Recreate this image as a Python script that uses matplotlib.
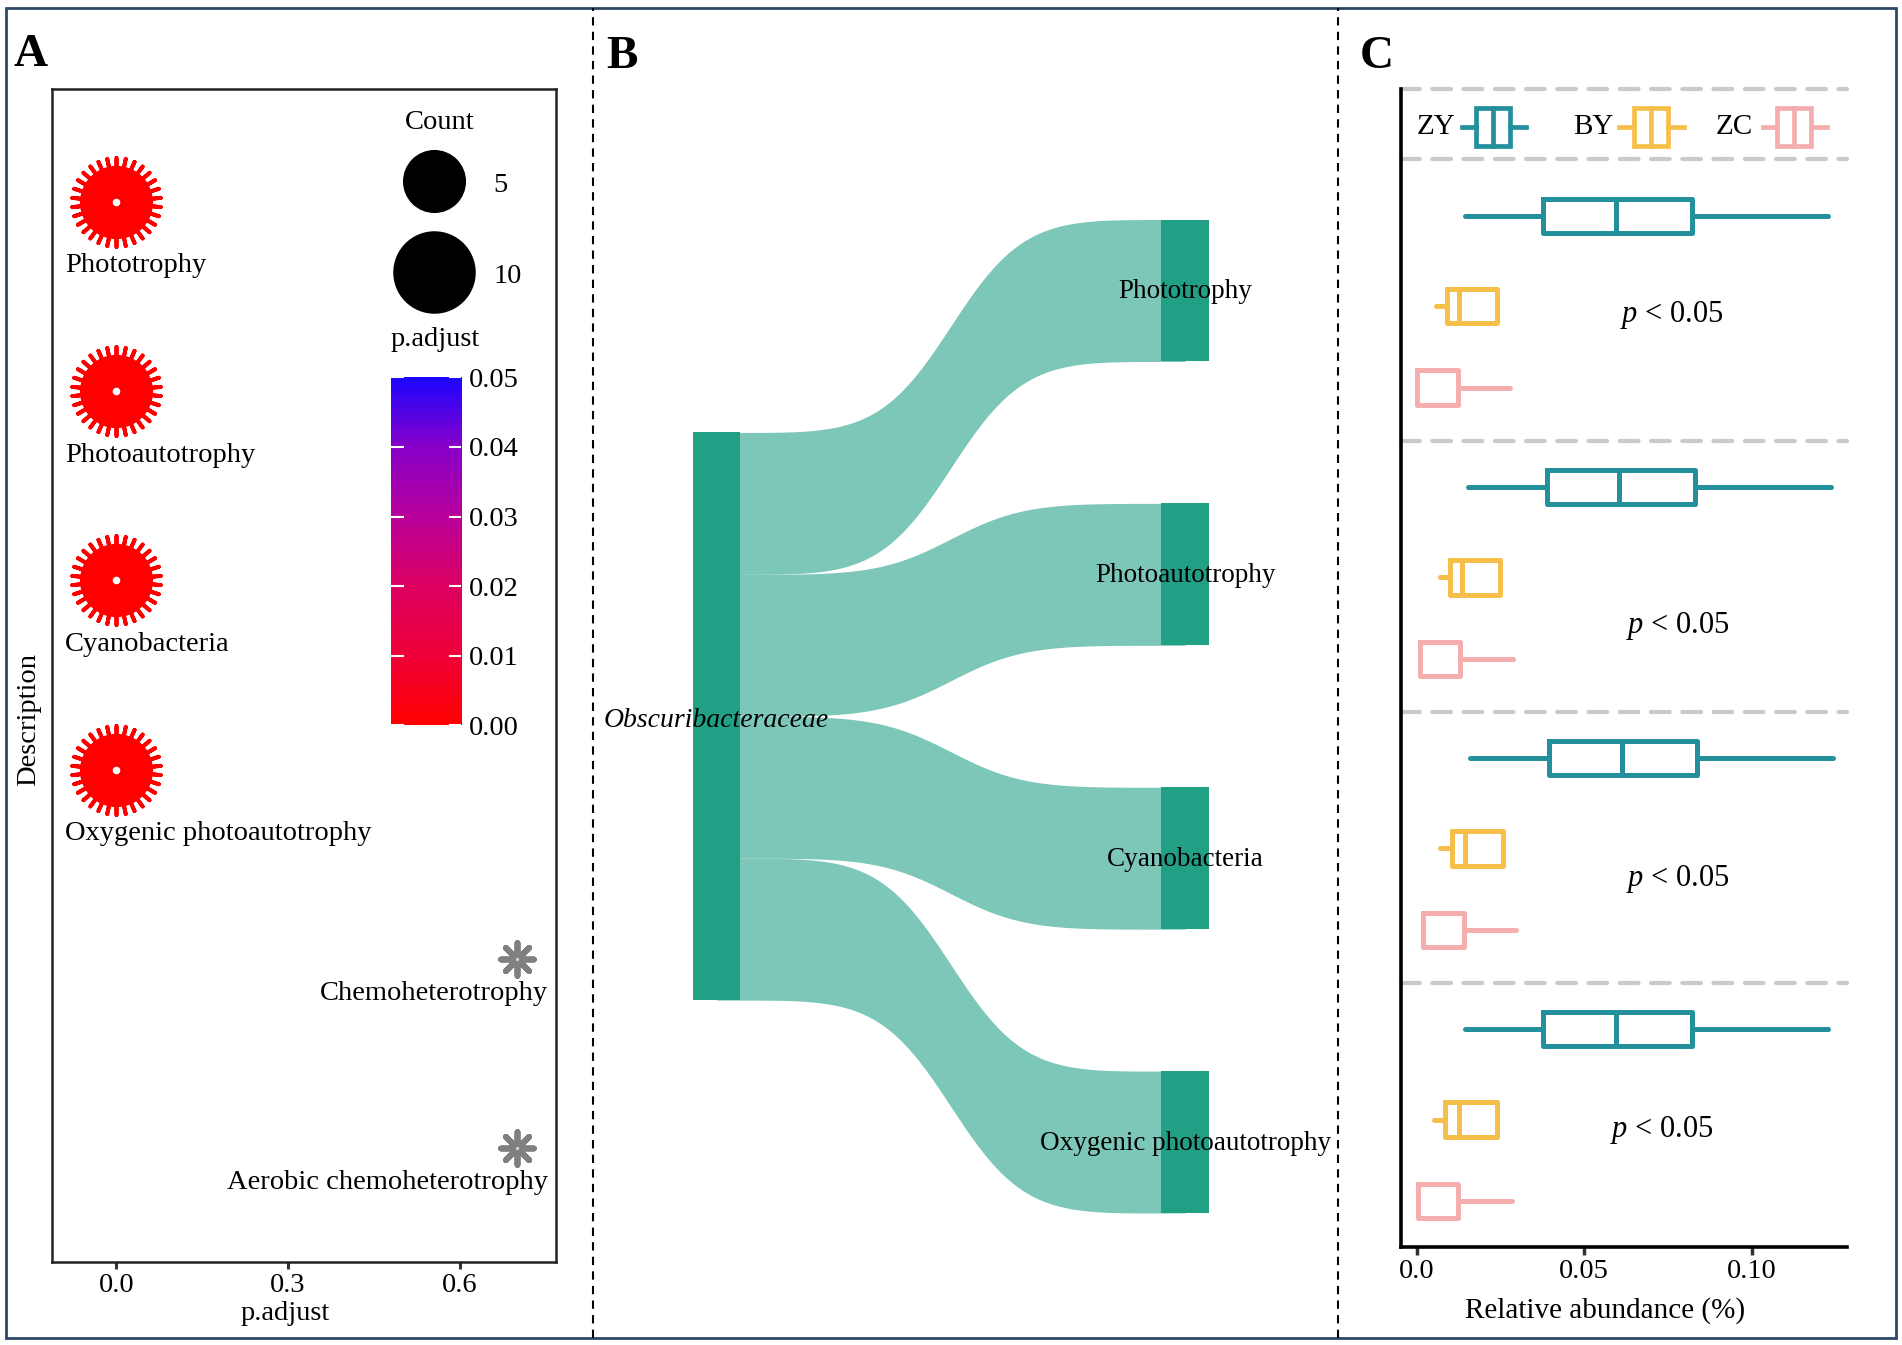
import numpy as np
import matplotlib.pyplot as plt
from matplotlib.colors import LinearSegmentedColormap
from matplotlib.patches import Rectangle
from matplotlib.lines import Line2D

plt.rcParams['font.family'] = ['Liberation Serif', 'DejaVu Serif']
plt.rcParams['mathtext.fontset'] = 'custom'
plt.rcParams['mathtext.rm'] = 'Liberation Serif'
plt.rcParams['mathtext.it'] = 'Liberation Serif:italic'
plt.rcParams['font.size'] = 20.5

# ---------------- data ----------------
# A: functional enrichment
functions = ["Phototrophy", "Photoautotrophy", "Cyanobacteria",
             "Oxygenic photoautotrophy", "Chemoheterotrophy",
             "Aerobic chemoheterotrophy"]
func_padj = [0.0, 0.0, 0.0, 0.0, 0.70, 0.70]
func_count = [7, 7, 7, 7, 1, 1]
count_legend = [5, 10]
padj_ticks = [0.00, 0.01, 0.02, 0.03, 0.04, 0.05]
padj_xticks = [0.0, 0.3, 0.6]

# B: taxon -> function flows
source_taxon = "Obscuribacteraceae"
flow_targets = ["Phototrophy", "Photoautotrophy", "Cyanobacteria",
                "Oxygenic photoautotrophy"]
flow_values = [1, 1, 1, 1]

# C: relative abundance per function (whislo, q1, med, q3, whishi)
sites = ["ZY", "BY", "ZC"]
abund_zy = [(0.0145, 0.0377, 0.0594, 0.0822, 0.1228),
            (0.0152, 0.0388, 0.0605, 0.0830, 0.1236),
            (0.0159, 0.0395, 0.0612, 0.0838, 0.1243),
            (0.0145, 0.0377, 0.0594, 0.0822, 0.1228)]
abund_by = [(0.0058, 0.0091, 0.0127, 0.0239, 0.0239),
            (0.0069, 0.0098, 0.0136, 0.0250, 0.0250),
            (0.0069, 0.0105, 0.0145, 0.0257, 0.0257),
            (0.0051, 0.0085, 0.0125, 0.0239, 0.0239)]
abund_zc = [(0.0, 0.0, 0.0, 0.0123, 0.0279),
            (0.0011, 0.0011, 0.0011, 0.0130, 0.0286),
            (0.0018, 0.0018, 0.0018, 0.0141, 0.0297),
            (0.0004, 0.0004, 0.0004, 0.0123, 0.0283)]
p_text = ["p < 0.05"] * 4
abund_xticks = [0.0, 0.05, 0.10]

# ---------------- styles ----------------
site_colors = ["#23909C", "#F6BF49", "#F4AEAE"]
node_color = "#22A086"
flow_color = "#7CC7B7"
cmap = LinearSegmentedColormap.from_list(
    "padj", ["#FF0000", "#F0003A", "#DC0062", "#B8009C", "#8700CA", "#1A06FF"])

W, H = 1568.0, 1108.8


def frac(x0, y0, x1, y1):
    return [x0 / W, 1 - y1 / H, (x1 - x0) / W, (y1 - y0) / H]


def count_size(c):
    return 594 + 293.4 * c


fig = plt.figure(figsize=(19.02, 13.45), dpi=100)

# outer frame and separators
fig.add_artist(Rectangle((5 / W, 1 - 1103 / H), 1558 / W, 1096 / H,
                         transform=fig.transFigure, fill=False,
                         edgecolor="#2E4766", lw=2))
for xs in [489, 1103]:
    fig.add_artist(Line2D([xs / W, xs / W], [1 - 1103 / H, 1 - 7 / H],
                          transform=fig.transFigure, color="black",
                          lw=1.5, ls=(0, (4, 3))))
for lab, (lx, ly) in zip("ABC", [(25, 45), (513, 47), (1135, 47)]):
    fig.text(lx / W, 1 - ly / H, lab, fontsize=34, fontweight="bold",
             ha="center", va="center")

# ---------------- panel A ----------------
axA = fig.add_axes(frac(43, 73, 458, 1040))
for i, (name, p, c) in enumerate(zip(functions, func_padj, func_count)):
    y = i + 1
    if p <= 0.05:
        col = cmap(p / 0.05)
        s = count_size(c)
        axA.scatter([p], [y], s=s * 1.55, marker=(30, 2, 0), c=[col],
                    linewidths=2.8, zorder=3)
        axA.scatter([p], [y], s=s * 1.05, marker="o", c=[col], linewidths=0, zorder=4)
        axA.scatter([p], [y], s=30, marker="o", c="white", linewidths=0, zorder=5)
        axA.annotate(name, (p, y), xytext=(-37, -46), textcoords="offset points",
                     ha="left", va="center")
    else:
        axA.scatter([p], [y], s=560, marker=(8, 2, 0), c="#808080",
                    linewidths=4.2, zorder=3)
        axA.scatter([p], [y], s=150, marker="o", c="#808080", linewidths=0, zorder=4)
        axA.scatter([p], [y], s=6, marker="o", c="#D0D0D0", linewidths=0, zorder=5)
        axA.annotate(name, (p, y), xytext=(22, -25), textcoords="offset points",
                     ha="right", va="center")

axA.set_xlim(-0.112, 0.767)
axA.set_ylim(6.6, 0.4)
axA.set_xticks(padj_xticks)
axA.set_xticklabels(["%.1f" % v for v in padj_xticks])
axA.set_yticks([])
axA.tick_params(axis="x", length=5, width=2.2, color="#333333", pad=3)
for sp in axA.spines.values():
    sp.set_linewidth(1.8)
    sp.set_color("#222222")
fig.text(24 / W, 1 - 593 / H, "Description", rotation=90, ha="center", va="center")
fig.text(235 / W, 1 - 1083 / H, "p.adjust", ha="center", va="center")

# size legend
axA.text(0.769, 0.971, "Count", ha="center", va="center", transform=axA.transAxes)
for c, yy in zip(count_legend, [0.921, 0.844]):
    axA.scatter([0.759], [yy], s=count_size(c), c="black", linewidths=0,
                transform=axA.transAxes, clip_on=False)
    axA.text(0.877, yy - 0.004, str(c), ha="left", va="center",
             transform=axA.transAxes)
axA.text(0.761, 0.786, "p.adjust", ha="center", va="center", transform=axA.transAxes)

# colour bar
cax = fig.add_axes(frac(322, 311, 380, 598))
grad = np.linspace(0, 0.05, 256).reshape(-1, 1)
cax.imshow(grad, aspect="auto", cmap=cmap, origin="lower",
           extent=[0, 1, 0, 0.05], vmin=0, vmax=0.05)
cax.set_xticks([])
cax.set_yticks(padj_ticks)
cax.set_yticklabels(["%.2f" % v for v in padj_ticks])
cax.yaxis.set_ticks_position("both")
cax.tick_params(axis="y", direction="in", color="white", length=9, width=1.5,
                left=True, right=True, labelleft=False, labelright=True, pad=6)
for sp in cax.spines.values():
    sp.set_visible(False)

# ---------------- panel B ----------------
axB = fig.add_axes(frac(489, 73, 1103, 1040))
axB.axis("off")
axB.set_xlim(0.737, 2.326)
axB.set_ylim(-0.342, 7.923)

node_w = 0.101
gap = 1.0
total = sum(flow_values)
right_top = total + gap * (len(flow_values) - 1)
left_top = right_top / 2 + total / 2

# flows run under the nodes so no seam shows at the node edges
xs = np.linspace(1, 2, 500)
t = np.clip((xs - (1 + node_w / 2)) / (1 - node_w), 0, 1)
ease = t ** 3 / (t ** 3 + (1 - t) ** 3)

r_tops, r_bots = [], []
acc = 0.0
for i, v in enumerate(flow_values):
    rt = right_top - acc - i * gap
    lt = left_top - acc
    r_tops.append(rt)
    r_bots.append(rt - v)
    top = lt + (rt - lt) * ease
    bot = (lt - v) + ((rt - v) - (lt - v)) * ease
    axB.fill_between(xs, bot, top, color=flow_color, lw=0, zorder=1)
    acc += v

axB.bar([1], [total], bottom=[left_top - total], width=node_w,
        color=node_color, zorder=2)
axB.bar([2] * len(flow_values), flow_values, bottom=r_bots, width=node_w,
        color=node_color, zorder=2)
axB.text(1, left_top - total / 2 - 0.03, source_taxon, style="italic",
         ha="center", va="center", zorder=3, fontsize=20)
for name, rt, rb in zip(flow_targets, r_tops, r_bots):
    axB.text(2, (rt + rb) / 2 - 0.01, name, ha="center", va="center", zorder=3,
             fontsize=19.5)

# ---------------- panel C ----------------
axC = fig.add_axes(frac(1155, 73, 1523, 1028))
axC.set_xlim(-0.0047, 0.1286)
axC.set_ylim(12.82, 0)

offsets = [1.41, 2.41, 3.31]
for si, data in enumerate([abund_zy, abund_by, abund_zc]):
    col = site_colors[si]
    stats = [dict(whislo=d[0], q1=d[1], med=d[2], q3=d[3], whishi=d[4], fliers=[])
             for d in data]
    pos = [g * 3.0 + offsets[si] for g in range(len(data))]
    axC.bxp(stats, positions=pos, widths=0.38, orientation="horizontal",
            showcaps=False, showfliers=False,
            boxprops=dict(color=col, lw=3.6),
            medianprops=dict(color=col, lw=3.6),
            whiskerprops=dict(color=col, lw=3.6, solid_capstyle="round"))

# group separators
for yy in [0, 0.78, 3.9, 6.9, 9.9]:
    axC.axhline(yy, color="#CACACA", lw=3, ls=(0, (4.5, 3)), clip_on=False,
                zorder=0, dash_capstyle="round")

p_x = [0.0761, 0.0779, 0.0779, 0.0732]
p_y = [2.51, 5.95, 8.75, 11.52]
for txt, px, py in zip(p_text, p_x, p_y):
    axC.text(px, py, txt.replace("p", "$p$", 1), ha="center", va="center",
             fontsize=22)

# legend row
leg_text_x = [0.0116, 0.0587, 0.1004]
leg_key_x = [0.0134, 0.0605, 0.1033]
key_w, box_l, box_w = 0.0192, 0.0044, 0.0101
leg_y = 0.43
for name, tx, kx, col in zip(sites, leg_text_x, leg_key_x, site_colors):
    axC.text(tx, leg_y, name, ha="right", va="center", fontsize=21)
    axC.plot([kx, kx + box_l], [leg_y, leg_y], color=col, lw=3.4, clip_on=False)
    axC.plot([kx + box_l + box_w, kx + key_w], [leg_y, leg_y], color=col, lw=3.4,
             clip_on=False)
    axC.add_patch(Rectangle((kx + box_l, leg_y - 0.21), box_w, 0.42, fill=False,
                            edgecolor=col, lw=3.4))
    axC.plot([kx + box_l + box_w / 2] * 2, [leg_y - 0.21, leg_y + 0.21], color=col,
             lw=3.4)

axC.set_yticks([])
axC.set_xticks(abund_xticks)
axC.set_xticklabels(["0.0", "0.05", "0.10"])
axC.tick_params(axis="x", length=6, width=2.5, color="#333333", pad=3)
axC.spines["top"].set_visible(False)
axC.spines["right"].set_visible(False)
axC.spines["left"].set_linewidth(2.6)
axC.spines["bottom"].set_linewidth(2.6)
fig.text(1323 / W, 1 - 1080 / H, "Relative abundance (%)", ha="center", va="center",
         fontsize=21)

fig.savefig("out.png", dpi=100)
